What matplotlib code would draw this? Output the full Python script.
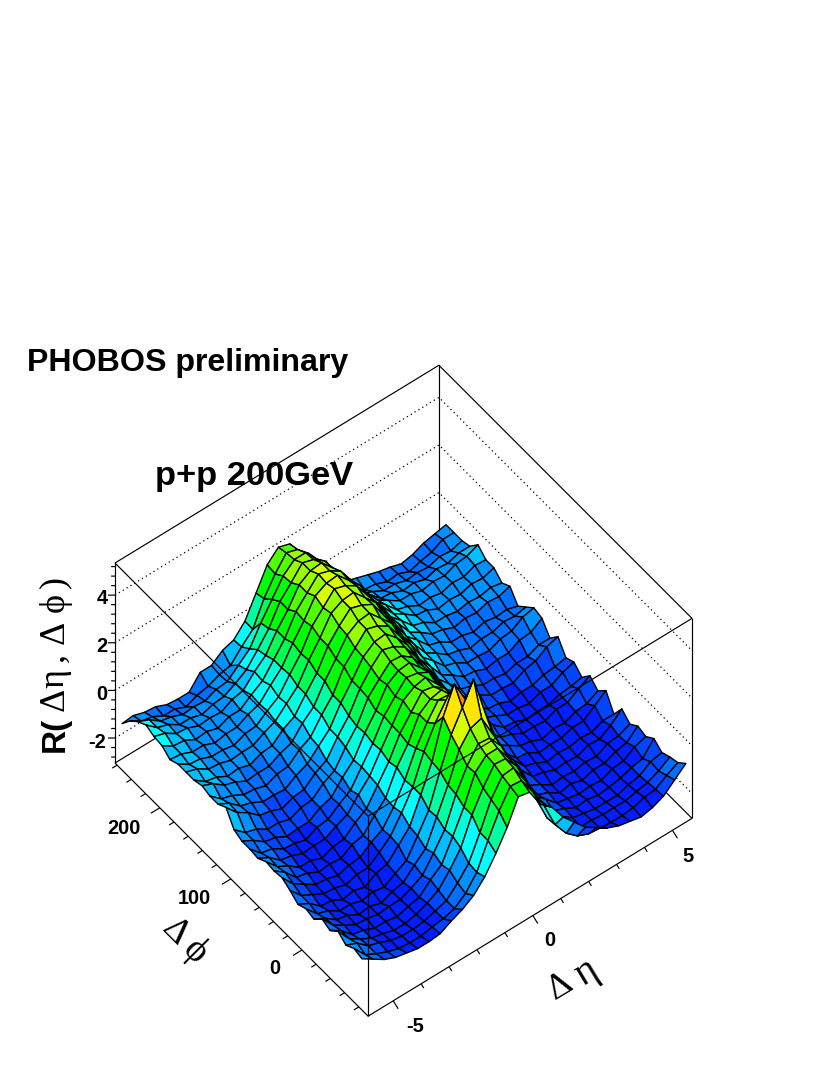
import numpy as np
import matplotlib
matplotlib.use("Agg")
import matplotlib.pyplot as plt
from matplotlib.colors import ListedColormap, BoundaryNorm
from mpl_toolkits.mplot3d import proj3d

# axis ranges of the box
eta_range = [-5.9, 5.7]
phi_range = [-93, 263]
z_range = [-3.05, 5.35]

eta_bins = np.linspace(-5.9, 5.7, 30)
phi_bins = np.linspace(-84.4, 253.1, 31)

# R(deta, dphi), one list per dphi bin
z_rows = [
    [-.9,-1.2,-1.5,-1.7,-1.8,-1.9,-1.9,-1.85,-1.6,-1.4,-1.1,-.6,.1,.9,1.9,1.8,1.0,.6,-.1,-.6,-1.1,-1.4,-1.7,-1.9,-2.0,-2.1,-2.0,-1.8,-1.4,-1.0],
    [-.8,-1.35,-1.6,-1.8,-1.95,-2.0,-2.0,-1.9,-1.85,-1.7,-1.35,-.75,.3,1.25,2.0,1.95,1.2,.35,-.75,-1.4,-1.8,-2.0,-2.05,-2.1,-2.1,-2.05,-1.9,-1.85,-1.55,-1.3],
    [-1.0,-1.2,-1.6,-1.75,-1.95,-2.05,-2.05,-2.0,-1.85,-1.7,-1.25,-.7,.3,1.4,2.1,2.15,1.35,.3,-.8,-1.4,-1.85,-2.05,-2.05,-2.1,-2.1,-2.1,-2.0,-1.9,-1.7,-1.4],
    [-.75,-1.35,-1.65,-1.9,-2.0,-2.15,-2.15,-2.05,-1.85,-1.6,-1.05,-.4,.7,1.55,2.25,2.2,1.6,.6,-.4,-1.2,-1.65,-2.0,-2.1,-2.2,-2.2,-2.2,-2.05,-1.95,-1.65,-1.55],
    [-1.05,-1.35,-1.8,-1.9,-2.1,-2.1,-2.2,-2.05,-1.95,-1.5,-1.15,-.25,.7,1.85,2.3,2.3,1.6,.8,-.4,-1.1,-1.75,-1.95,-2.2,-2.15,-2.25,-2.2,-2.1,-1.95,-1.85,-1.3],
    [-.9,-1.45,-1.75,-2.0,-2.05,-2.15,-2.1,-2.1,-1.9,-1.65,-1.0,-.3,.9,1.8,2.45,2.4,1.8,.75,-.25,-1.2,-1.6,-2.05,-2.15,-2.25,-2.2,-2.25,-2.05,-2.0,-1.7,-1.55],
    [-1.25,-1.5,-1.85,-1.95,-2.2,-2.15,-2.3,-2.1,-2.0,-1.55,-1.15,-.1,.95,2.15,2.75,2.9,1.95,1.0,-.3,-1.05,-1.75,-1.95,-2.25,-2.15,-2.3,-2.15,-2.15,-1.95,-1.85,-1.45],
    [-1.15,-1.65,-1.8,-2.1,-2.1,-2.25,-2.15,-2.25,-1.95,-1.7,-.95,-.15,1.2,2.45,3.3,4.2,2.55,1.15,-.2,-1.0,-1.7,-1.95,-2.25,-2.2,-2.25,-2.15,-2.2,-1.95,-1.9,-1.7],
    [-1.3,-1.55,-1.95,-2.0,-2.25,-2.15,-2.3,-2.0,-1.9,-1.4,-.9,.15,1.25,2.85,3.95,3.0,2.25,1.15,.1,-.9,-1.4,-1.95,-2.05,-2.25,-2.2,-2.25,-2.05,-2.1,-1.8,-1.4],
    [-1.05,-1.55,-1.8,-2.05,-2.1,-2.25,-2.1,-2.1,-1.75,-1.35,-.65,.15,1.35,2.25,2.95,2.8,2.25,1.2,.3,-.75,-1.3,-1.85,-2.0,-2.25,-2.15,-2.2,-2.1,-2.15,-1.95,-1.95],
    [-.85,-1.4,-1.7,-2.0,-2.05,-2.2,-2.05,-2.0,-1.65,-1.4,-.75,.1,1.15,1.95,2.6,2.55,2.0,1.05,.15,-.8,-1.35,-1.85,-1.9,-2.2,-2.15,-2.15,-2.0,-2.0,-1.65,-1.3],
    [-.9,-1.25,-1.75,-1.85,-2.1,-2.05,-2.1,-1.8,-1.7,-1.15,-.7,.3,1.0,1.95,2.3,2.4,1.8,1.1,.15,-.65,-1.35,-1.65,-1.95,-2.05,-2.25,-2.1,-2.15,-1.95,-1.9,-1.65],
    [-.85,-1.35,-1.6,-1.95,-1.95,-2.15,-1.95,-1.9,-1.5,-1.2,-.5,.2,1.1,1.7,2.3,2.2,1.85,1.0,.25,-.6,-1.15,-1.65,-1.8,-2.05,-2.05,-2.1,-1.9,-1.9,-1.6,-1.35],
    [-1.05,-1.3,-1.7,-1.8,-2.0,-1.95,-1.95,-1.7,-1.5,-.95,-.45,.35,1.1,1.85,2.15,2.25,1.7,1.15,.25,-.4,-1.1,-1.45,-1.85,-1.9,-2.1,-2.05,-2.05,-1.9,-1.85,-1.75],
    [-1.0,-1.45,-1.55,-1.85,-1.9,-2.05,-1.8,-1.75,-1.4,-1.1,-.4,.3,1.15,1.7,2.2,2.1,1.85,1.0,.35,-.5,-.95,-1.5,-1.7,-1.95,-1.95,-2.05,-1.85,-1.85,-1.6,-1.45],
    [-1.0,-1.25,-1.6,-1.7,-1.95,-1.9,-1.9,-1.6,-1.45,-.9,-.45,.4,1.05,1.85,2.15,2.2,1.7,1.15,.25,-.35,-1.05,-1.35,-1.75,-1.8,-2.0,-1.9,-1.9,-1.75,-1.7,-1.6],
    [-.85,-1.25,-1.4,-1.7,-1.7,-1.85,-1.65,-1.6,-1.2,-.95,-.25,.35,1.25,1.75,2.2,2.15,1.8,1.1,.4,-.4,-.85,-1.35,-1.5,-1.8,-1.8,-1.85,-1.6,-1.5,-1.2,-1.05],
    [-.25,-.75,-1.05,-1.45,-1.55,-1.75,-1.55,-1.5,-1.1,-.85,-.15,.45,1.3,1.9,2.35,2.2,1.9,1.2,.5,-.3,-.8,-1.3,-1.45,-1.7,-1.7,-1.8,-1.65,-1.65,-1.45,-1.45],
    [-.45,-.7,-1.1,-1.25,-1.5,-1.5,-1.55,-1.25,-1.05,-.6,-.15,.65,1.3,2.0,2.35,2.4,1.95,1.35,.5,-.1,-.75,-1.05,-1.4,-1.45,-1.65,-1.55,-1.55,-1.3,-1.25,-.95],
    [-.45,-.85,-1.0,-1.25,-1.3,-1.45,-1.25,-1.2,-.8,-.55,.1,.65,1.55,2.05,2.55,2.4,2.1,1.4,.75,-.05,-.5,-1.0,-1.15,-1.45,-1.45,-1.5,-1.3,-1.25,-.95,-.85],
    [-.35,-.55,-.9,-1.05,-1.3,-1.25,-1.25,-1.0,-.85,-.3,.1,.9,1.55,2.25,2.55,2.6,2.1,1.6,.75,.15,-.5,-.8,-1.15,-1.25,-1.45,-1.35,-1.35,-1.2,-1.25,-1.15],
    [-.45,-.8,-.9,-1.15,-1.1,-1.25,-1.05,-1.0,-.6,-.35,.3,.9,1.75,2.3,2.75,2.6,2.35,1.6,.95,.15,-.3,-.8,-.95,-1.25,-1.25,-1.4,-1.25,-1.35,-1.3,-1.45],
    [-.45,-.6,-.9,-.95,-1.1,-1.05,-1.05,-.8,-.6,-.15,.3,1.1,1.75,2.5,2.75,2.8,2.3,1.8,.95,.35,-.3,-.6,-.95,-1.05,-1.25,-1.15,-1.2,-1.05,-1.1,-.95],
    [-.45,-.75,-.8,-1.0,-1.0,-1.1,-.9,-.85,-.5,-.2,.45,1.05,1.9,2.4,2.9,2.75,2.45,1.75,1.1,.3,-.15,-.65,-.8,-1.1,-1.1,-1.2,-1.1,-1.15,-1.05,-1.15],
    [-.6,-.65,-.85,-.85,-1.05,-.95,-.95,-.7,-.55,-.05,.4,1.15,1.8,2.55,2.8,2.85,2.35,1.85,1.0,.4,-.2,-.5,-.85,-.9,-1.15,-1.05,-1.1,-.95,-1.0,-.85],
    [-.35,-.65,-.7,-.95,-.9,-1.05,-.85,-.85,-.5,-.2,.4,1.0,1.85,2.35,2.85,2.7,2.4,1.7,1.05,.25,-.15,-.65,-.8,-1.05,-1.0,-1.1,-.95,-1.0,-.8,-.85],
    [-.3,-.45,-.75,-.8,-1.0,-.95,-1.0,-.75,-.65,-.15,.25,1.0,1.6,2.35,2.65,2.7,2.2,1.65,.85,.3,-.3,-.6,-.9,-.9,-1.05,-.95,-1.0,-.8,-.75,-.55],
    [-.15,-.55,-.7,-1.0,-1.0,-1.15,-1.0,-.95,-.7,-.4,.15,.75,1.6,2.1,2.65,2.5,2.15,1.45,.8,0.0,-.4,-.85,-.9,-1.1,-1.05,-1.2,-1.05,-1.1,-.95,-.95],
    [-.35,-.55,-.9,-1.0,-1.2,-1.15,-1.2,-1.0,-.95,-.55,-.15,.65,1.35,2.05,2.45,2.45,1.9,1.35,.5,-.1,-.7,-.9,-1.15,-1.15,-1.3,-1.25,-1.3,-1.15,-1.2,-1.05],
    [-.65,-.95,-1.05,-1.3,-1.3,-1.5,-1.3,-1.2,-1.0,-.9,-.4,.05,1.05,1.8,2.4,2.25,1.8,.9,.25,-.5,-.85,-1.15,-1.2,-1.4,-1.35,-1.55,-1.4,-1.3,-1.05,-1.05],
    [-1.1,-1.05,-1.2,-1.25,-1.45,-1.5,-1.5,-.95,-.95,-.6,-.45,.05,.95,1.85,2.3,2.15,1.5,.8,.2,-.45,-.85,-1.0,-1.15,-1.3,-1.4,-1.55,-1.45,-1.25,-1.15,-1.05],
]

# colour bands of the surface
band_edges = [-3.05, -1.85, -1.5, -1.15, -.8, -.45, 0.0, .3, .65, 1.0, 2.0, 2.3, 2.65, 3.0, 3.3, 3.6, 4.0, 5.35]
band_colors = ["#001eff", "#0046ff", "#006eff", "#0091ff", "#00beff", "#00ffff",
               "#00ffdc", "#00ffa0", "#00ff50", "#00ff00", "#50ff00", "#96ff00",
               "#d7ff00", "#ffe600", "#ffbe00", "#ff8c00", "#ff5a00"]

z_major = [-2, 0, 2, 4]
z_minor = np.arange(-2.8, 5.3, 0.4)
phi_major = [0, 100, 200]
phi_minor = np.arange(-80, 261, 20)
eta_major = [-5, 0, 5]
eta_minor = np.arange(-5, 6, 1)

W, H = 830, 1075
fig = plt.figure(figsize=(W / 100, H / 100), dpi=100)
ax = fig.add_axes([0, 0, 1, W / H], projection="3d", proj_type="ortho")
ax.computed_zorder = False
ax.view_init(elev=51.4, azim=-128)
ax.set_box_aspect((411, 411, 320.5))
ax.set_xlim(eta_range)
ax.set_ylim(phi_range)
ax.set_zlim(z_range)
ax.set_axis_off()
ax.patch.set_alpha(0)


def to_px(x, y, z):
    px, py, _ = proj3d.proj_transform(x, y, z, ax.get_proj())
    return ax.transData.transform((px, py))


# move the axes so the box lands where it is in the picture
def place_box():
    fig.canvas.draw()
    left = to_px(eta_range[0], phi_range[1], z_range[0])
    right = to_px(eta_range[1], phi_range[0], z_range[0])
    scale = (692 - 115) / (right[0] - left[0])
    pos = ax.get_position()
    side = pos.width * W * scale
    ax.set_position([pos.x0, pos.y0, side / W, side / H])
    fig.canvas.draw()
    left = to_px(eta_range[0], phi_range[1], z_range[0])
    pos = ax.get_position()
    ax.set_position([pos.x0 + (115 - left[0]) / W, pos.y0 + (H - 763 - left[1]) / H, pos.width, pos.height])


place_box()

e0, e1 = eta_range
p0, p1 = phi_range
z0, z1 = z_range
line = dict(color="black", lw=0.85, solid_capstyle="butt", clip_on=False)

# walls behind the surface
for xs, ys, zs in [([e0, e1, e1], [p1, p1, p0], [z0, z0, z0]),
                   ([e0, e1, e1], [p1, p1, p0], [z1, z1, z1]),
                   ([e1, e1], [p1, p1], [z0, z1])]:
    ax.plot(xs, ys, zs, zorder=1, **line)
for z in z_major:
    ax.plot([e0, e1, e1], [p1, p1, p0], [z, z, z], color="black", lw=0.9,
            linestyle=(0, (1, 2.6)), zorder=1, clip_on=False)

# surface, one flat colour per cell
X, Y = np.meshgrid(eta_bins, phi_bins)
Z = np.array(z_rows)
cell_mean = Z.copy()
cell_mean[:-1, :-1] = (Z[:-1, :-1] + Z[1:, :-1] + Z[:-1, 1:] + Z[1:, 1:]) / 4
cmap = ListedColormap(band_colors)
norm = BoundaryNorm(band_edges, cmap.N)
surf = ax.plot_surface(X, Y, Z, rstride=1, cstride=1, facecolors=cmap(norm(cell_mean)),
                       shade=False, zorder=2)
surf.set_edgecolor("black")
surf.set_linewidth(1.0)

# front of the box goes over the surface
for xs, ys, zs in [([e0, e0, e1], [p1, p0, p0], [z0, z0, z0]),
                   ([e0, e0, e1], [p1, p0, p0], [z1, z1, z1]),
                   ([e0, e0], [p1, p1], [z0, z1]),
                   ([e0, e0], [p0, p0], [z0, z1]),
                   ([e1, e1], [p0, p0], [z0, z1])]:
    ax.plot(xs, ys, zs, zorder=3, **line)

# ticks
for z in z_minor:
    k = 1.0 if np.any(np.isclose(z, z_major)) else 0.55
    ax.plot([e0, e0 - 0.156 * k], [p1, p1 + 3.74 * k], [z, z], zorder=3, **line)
for p in phi_minor:
    k = 1.0 if p in phi_major else 0.55
    ax.plot([e0, e0 - 0.32 * k], [p, p], [z0, z0], zorder=3, **line)
for e in eta_minor:
    k = 1.0 if e in eta_major else 0.55
    ax.plot([e, e - 0.067 * k], [p0, p0 - 9.65 * k], [z0, z0], zorder=3, **line)


def put(x, y, s, **kw):
    fig.text(x / W, 1 - y / H, s, ha="center", va="center", **kw)


sans = dict(family="Liberation Sans", fontweight="bold")
serif = dict(family="Liberation Serif")

# titles
put(188, 363, "PHOBOS preliminary", fontsize=23.1, **sans)
put(254, 476, "p+p 200GeV", fontsize=24.8, **sans)

# tick labels
for lab, x, y in zip(["4", "2", "0", "-2"], [102, 102, 102, 97], [599, 647, 694, 743]):
    put(x, y, lab, fontsize=14.4, **sans)
for lab, x, y in zip(["200", "100", "0"], [124, 194, 275], [828, 899, 968]):
    put(x, y, lab, fontsize=14.4, **sans)
for lab, x, y in zip(["-5", "0", "5"], [415, 550, 688], [1027, 940, 857]):
    put(x, y, lab, fontsize=14.4, **sans)

# axis titles, greek letters in the thin face
put(55, 734, "R(", fontsize=24, rotation=90, **sans)
for s, y in zip(["\u0394", "\u03b7", ",", "\u0394", "\u03d5", ")"], [699, 678, 657, 632, 603, 582]):
    put(55, y, s, fontsize=26, rotation=90, **serif)
put(175, 932, "\u0394", fontsize=26, rotation=-45, **serif)
put(195, 952, "\u03d5", fontsize=27, rotation=-45, **serif)
put(560, 987, "\u0394", fontsize=26, rotation=31, **serif)
put(587, 973, "\u03b7", fontsize=28, rotation=31, **serif)

fig.savefig("out.png", dpi=100)
